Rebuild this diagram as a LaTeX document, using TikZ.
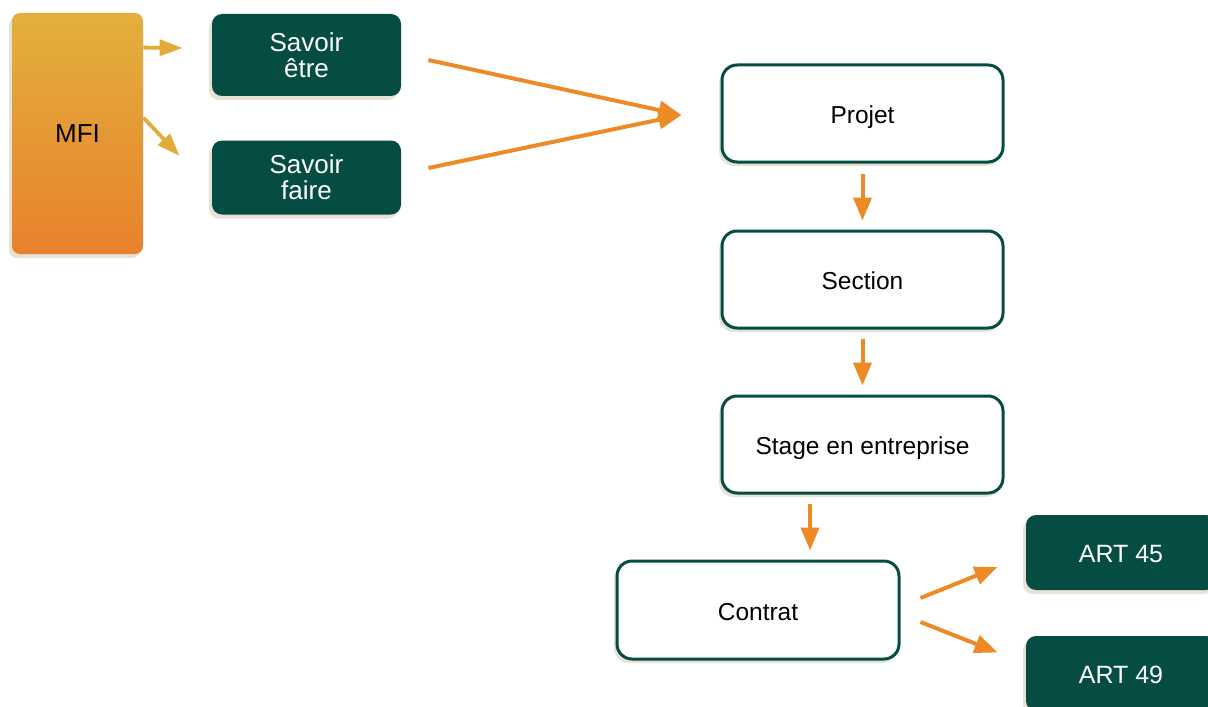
\documentclass[tikz,border=0pt]{standalone}
\usepackage{fontspec}
\setmainfont{Liberation Sans}
\usepackage{xcolor}
\usetikzlibrary{arrows.meta, shadows}

\definecolor{deepgreen}{HTML}{054D42}
\definecolor{flowor}{HTML}{EE8A25}
\definecolor{mfiyel}{HTML}{E2AC3B}
\definecolor{mfitop}{HTML}{E3B03D}
\definecolor{mfibot}{HTML}{E8812C}
\definecolor{shadetan}{HTML}{C2B498}

\begin{document}
\begin{tikzpicture}[x=0.5pt, y=-0.5pt,
    soft/.style={drop shadow={shadow xshift=-1.5pt, shadow yshift=-2pt, fill=shadetan, opacity=0.4}},
    skillbox/.style={soft, fill=deepgreen, text=white, rounded corners=5pt, minimum width=94.5pt, align=center, font=\fontsize{13}{13}\selectfont},
    stepbox/.style={soft, draw=deepgreen, line width=1.5pt, fill=white, rounded corners=7.5pt, minimum width=140.5pt, minimum height=48.5pt, text height=1em, text depth=0pt, font=\fontsize{12.25}{14}\selectfont},
    artbox/.style={soft, fill=deepgreen, text=white, rounded corners=5pt, minimum width=95pt, minimum height=37.5pt, text height=1em, text depth=0pt, font=\fontsize{12.5}{14}\selectfont},
    flow/.style={draw=flowor, line width=2pt, -{Triangle[length=11.5pt, width=9pt]}},
    feed/.style={draw=mfiyel, line width=1.9pt, -{Triangle[length=11.5pt, width=8pt]}}
]
    \useasboundingbox (0,0) rectangle (1208,706);

    \node[soft, top color=mfitop, bottom color=mfibot, rounded corners=4pt, minimum width=65.5pt, minimum height=120.5pt, font=\fontsize{13}{14}\selectfont] (mfi) at (77.5,133.5) {MFI};
    \node[skillbox, minimum height=41pt] (etre) at (306.5,55) {Savoir\\être};
    \node[skillbox, minimum height=37pt] (faire) at (306.5,177.5) {Savoir\\faire};

    \node[stepbox] (projet) at (862.5,113.5) {Projet};
    \node[stepbox] (section) at (862.5,279.5) {Section};
    \node[stepbox] (stage) at (862.5,444.5) {Stage en entreprise};
    \node[stepbox, minimum width=141pt, minimum height=49pt] (contrat) at (758,610) {Contrat};

    \node[artbox] (art45) at (1121,552.5) {ART 45};
    \node[artbox] (art49) at (1121,673.5) {ART 49};

    \coordinate (meet) at ([shift={(-19.5pt,-0.75pt)}]projet.west);

    \draw[feed] ([yshift=-17.5pt]mfi.north east) -- ([shift={(-14.5pt,3.5pt)}]etre.west);
    \draw[feed] ([yshift=-52.5pt]mfi.north east) -- ([shift={(-16pt,10.75pt)}]faire.west);

    \draw[flow] ([shift={(13.5pt,-2.5pt)}]etre.east) -- (meet);
    \draw[flow] ([shift={(13.5pt,4.75pt)}]faire.east) -- (meet);

    \draw[flow, shorten <=5pt, shorten >=4.5pt] (projet.south) -- (section.north);
    \draw[flow, shorten <=4.5pt, shorten >=4.5pt] (section.south) -- (stage.north);
    \draw[flow, shorten <=4.5pt, shorten >=4.5pt] ([xshift=-26.25pt]stage.south) -- ([xshift=26pt]contrat.north);

    \draw[flow] ([shift={(10pt,6pt)}]contrat.east) -- ([shift={(-14pt,-7.25pt)}]art45.west);
    \draw[flow] ([shift={(10pt,-6pt)}]contrat.east) -- ([shift={(-14pt,10.5pt)}]art49.west);
\end{tikzpicture}
\end{document}
